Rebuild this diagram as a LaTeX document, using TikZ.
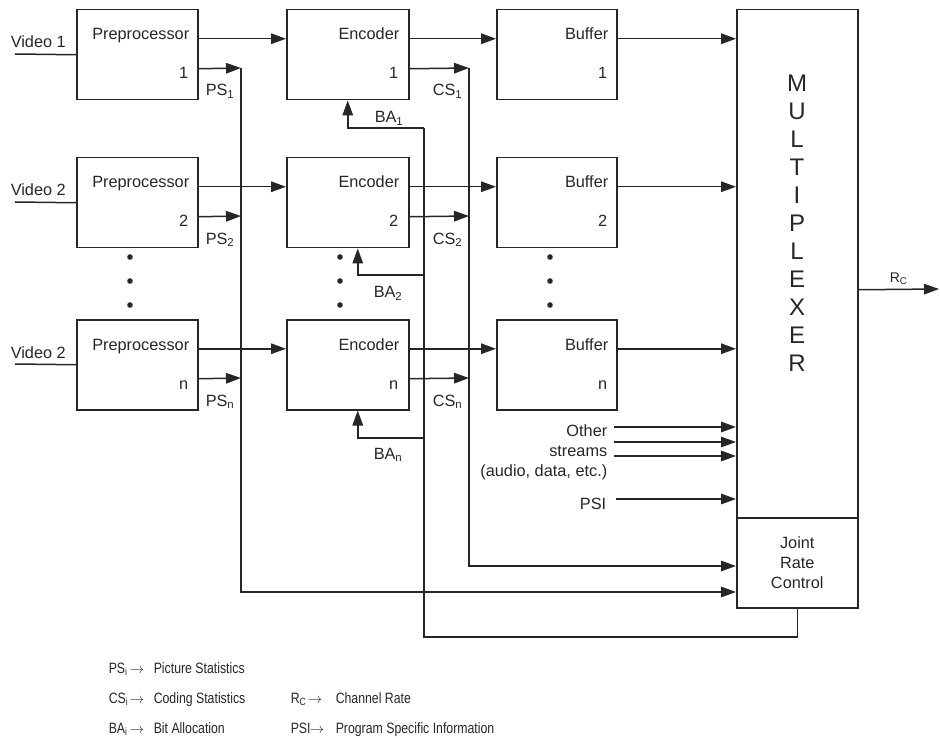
\documentclass[tikz,border=0pt]{standalone}
\usepackage{fontspec}
\setmainfont{Liberation Sans}
\newfontfamily\legendfont[FakeStretch=0.82]{Liberation Sans}
\usetikzlibrary{arrows.meta}
\definecolor{ink}{HTML}{262626}
\begin{document}
\begin{tikzpicture}[x=1pt,y=-1pt,line width=1.5pt,color=ink,
  box/.style={draw=ink,line width=1.5pt,inner sep=0pt,anchor=north west,minimum height=90pt},
  arr/.style={-{Triangle[length=15pt,width=10.5pt]}},
  t/.style={inner sep=0pt,font=\fontsize{16.3}{19}\selectfont},
  leg/.style={inner sep=0pt,font=\legendfont\fontsize{15}{17}\selectfont},
  dot/.style={fill=ink}]
\useasboundingbox (0,0) rectangle (940,738);
% boxes
\node[box,minimum width=121pt] (P1) at (76,9) {};
\node[box,minimum width=121pt] (P2) at (76,157) {};
\node[box,minimum width=121pt] (Pn) at (76,319) {};
\node[box,minimum width=122pt] (E1) at (286,9) {};
\node[box,minimum width=122pt] (E2) at (286,157) {};
\node[box,minimum width=122pt] (En) at (286,319) {};
\node[box,minimum width=120pt] (B1) at (496,9) {};
\node[box,minimum width=120pt] (B2) at (496,157) {};
\node[box,minimum width=120pt] (Bn) at (496,319) {};
\node[box,minimum width=121pt,minimum height=508pt] (MUX) at (736,9) {};
\node[box,minimum width=121pt,minimum height=90pt,align=center,font=\fontsize{16.3}{20}\selectfont] (JRC) at (736,517) {Joint\\Rate\\Control};
% box texts
\node[t,anchor=base east] (P1t) at (190,40) {Preprocessor};
\node[t,anchor=base east] (P1k) at (189,79) {1};
\node[t,anchor=base east] (P2t) at (190,188) {Preprocessor};
\node[t,anchor=base east] (P2k) at (189,227) {2};
\node[t,anchor=base east] (Pnt) at (190,350) {Preprocessor};
\node[t,anchor=base east] (Pnk) at (189,389) {n};
\node[t,anchor=base east] (E1t) at (400,40) {Encoder};
\node[t,anchor=base east] (E1k) at (399,79) {1};
\node[t,anchor=base east] (E2t) at (400,188) {Encoder};
\node[t,anchor=base east] (E2k) at (399,227) {2};
\node[t,anchor=base east] (Ent) at (400,350) {Encoder};
\node[t,anchor=base east] (Enk) at (399,389) {n};
\node[t,anchor=base east] (B1t) at (609,40) {Buffer};
\node[t,anchor=base east] (B1k) at (608,79) {1};
\node[t,anchor=base east] (B2t) at (609,188) {Buffer};
\node[t,anchor=base east] (B2k) at (608,227) {2};
\node[t,anchor=base east] (Bnt) at (609,350) {Buffer};
\node[t,anchor=base east] (Bnk) at (608,389) {n};
\node[inner sep=0pt,align=center,font=\fontsize{24}{28}\selectfont] (MUXt) at (797,223) {M\\U\\L\\T\\I\\P\\L\\E\\X\\E\\R};
% video inputs
\coordinate (v1) at (15,54);
\coordinate (v2) at (15,202);
\coordinate (vn) at (15,364);
\draw (v1) -- (P1.west);
\draw (v2) -- (P2.west);
\draw (vn) -- (Pn.west);
\node[t,anchor=base west] (V1t) at (10,48) {Video 1};
\node[t,anchor=base west] (V2t) at (10,196) {Video 2};
\node[t,anchor=base west] (Vnt) at (10,358) {Video 2};
% main data path
\foreach \r in {1,2,n}{
  \draw[arr] ([yshift=16pt]P\r.east) -- ([yshift=16pt]E\r.west);
  \draw[arr] ([yshift=16pt]E\r.east) -- ([yshift=16pt]B\r.west);
  \path ([yshift=16pt]B\r.east) coordinate (bo\r);
  \draw[arr] (bo\r) -- (bo\r -| MUX.west);
}
% PS bus
\coordinate (ps1) at (241,68);
\coordinate (ps2) at (241,216);
\coordinate (psn) at (241,378);
\coordinate (psin) at (0,592);
\draw[arr] ([yshift=-14pt]P1.east) -- (ps1);
\draw[arr] ([yshift=-14pt]P2.east) -- (ps2);
\draw[arr] ([yshift=-14pt]Pn.east) -- (psn);
\draw[arr] (ps1) |- (psin -| JRC.west);
% CS bus
\coordinate (cs1) at (469,68);
\coordinate (cs2) at (469,216);
\coordinate (csn) at (469,378);
\coordinate (csin) at (0,566);
\draw[arr] ([yshift=-14pt]E1.east) -- (cs1);
\draw[arr] ([yshift=-14pt]E2.east) -- (cs2);
\draw[arr] ([yshift=-14pt]En.east) -- (csn);
\draw[arr] (cs1) |- (csin -| JRC.west);
% BA bus
\coordinate (batop) at (424,128);
\coordinate (ba2) at (424,275);
\coordinate (ban) at (424,438);
\coordinate (babot) at (424,637);
\draw (JRC.south) |- (babot) -- (batop);
\draw[arr] (batop) -| (E1.south);
\draw[arr] (ba2) -| ([xshift=10pt]E2.south);
\draw[arr] (ban) -| ([xshift=10pt]En.south);
% signal labels
\node[t,anchor=base west] (PS1l) at (205,96) {PS\textsubscript{1}};
\node[t,anchor=base west] (PS2l) at (205,244) {PS\textsubscript{2}};
\node[t,anchor=base west] (PSnl) at (205,406) {PS\textsubscript{n}};
\node[t,anchor=base west] (CS1l) at (432,96) {CS\textsubscript{1}};
\node[t,anchor=base west] (CS2l) at (432,244) {CS\textsubscript{2}};
\node[t,anchor=base west] (CSnl) at (432,406) {CS\textsubscript{n}};
\node[t,anchor=base west] (BA1l) at (374,123) {BA\textsubscript{1}};
\node[t,anchor=base west] (BA2l) at (373,298) {BA\textsubscript{2}};
\node[t,anchor=base west] (BAnl) at (373,459) {BA\textsubscript{n}};
% dots
\foreach \x in {130,340,550}{
  \foreach \y in {257,281,305}{
    \fill[dot] (\x,\y) circle (2.8pt);
  }
}
% other streams and PSI
\coordinate (os1) at (614,427);
\coordinate (os2) at (614,442);
\coordinate (os3) at (614,456);
\coordinate (psis) at (616,499);
\draw[arr] (os1) -- (os1 -| MUX.west);
\draw[arr] (os2) -- (os2 -| MUX.west);
\draw[arr] (os3) -- (os3 -| MUX.west);
\draw[arr] (psis) -- (psis -| MUX.west);
\node[t,anchor=base east] (OS1t) at (608,436) {Other};
\node[t,anchor=base east] (OS2t) at (608,456) {streams};
\node[t,anchor=base east] (OS3t) at (608,476) {(audio, data, etc.)};
\node[t,anchor=base east] (PSIt) at (607,509) {PSI};
% output
\path ([yshift=-26pt]MUX.east) coordinate (rco);
\coordinate (rcend) at (939,289);
\draw[arr] (rco) -- (rcend);
\node[inner sep=0pt,anchor=base west,font=\fontsize{14}{16}\selectfont] (Rcl) at (889,282) {R\textsubscript{C}};
% legend
\node[leg,anchor=base west] (L1a) at (108,673) {PS\textsubscript{i}};
\node[leg,anchor=base west] (L1b) at (129,673) {$\rightarrow$};
\node[leg,anchor=base west] (L1c) at (153,673) {Picture Statistics};
\node[leg,anchor=base west] (L2a) at (108,703) {CS\textsubscript{i}};
\node[leg,anchor=base west] (L2b) at (129,703) {$\rightarrow$};
\node[leg,anchor=base west] (L2c) at (153,703) {Coding Statistics};
\node[leg,anchor=base west] (L3a) at (108,733) {BA\textsubscript{i}};
\node[leg,anchor=base west] (L3b) at (129,733) {$\rightarrow$};
\node[leg,anchor=base west] (L3c) at (153,733) {Bit Allocation};
\node[leg,anchor=base west] (L4a) at (290,703) {R\textsubscript{C}};
\node[leg,anchor=base west] (L4b) at (307,703) {$\rightarrow$};
\node[leg,anchor=base west] (L4c) at (335,703) {Channel Rate};
\node[leg,anchor=base west] (L5a) at (290,733) {PSI};
\node[leg,anchor=base west] (L5b) at (309,733) {$\rightarrow$};
\node[leg,anchor=base west] (L5c) at (335,733) {Program Specific Information};
\end{tikzpicture}
\end{document}
